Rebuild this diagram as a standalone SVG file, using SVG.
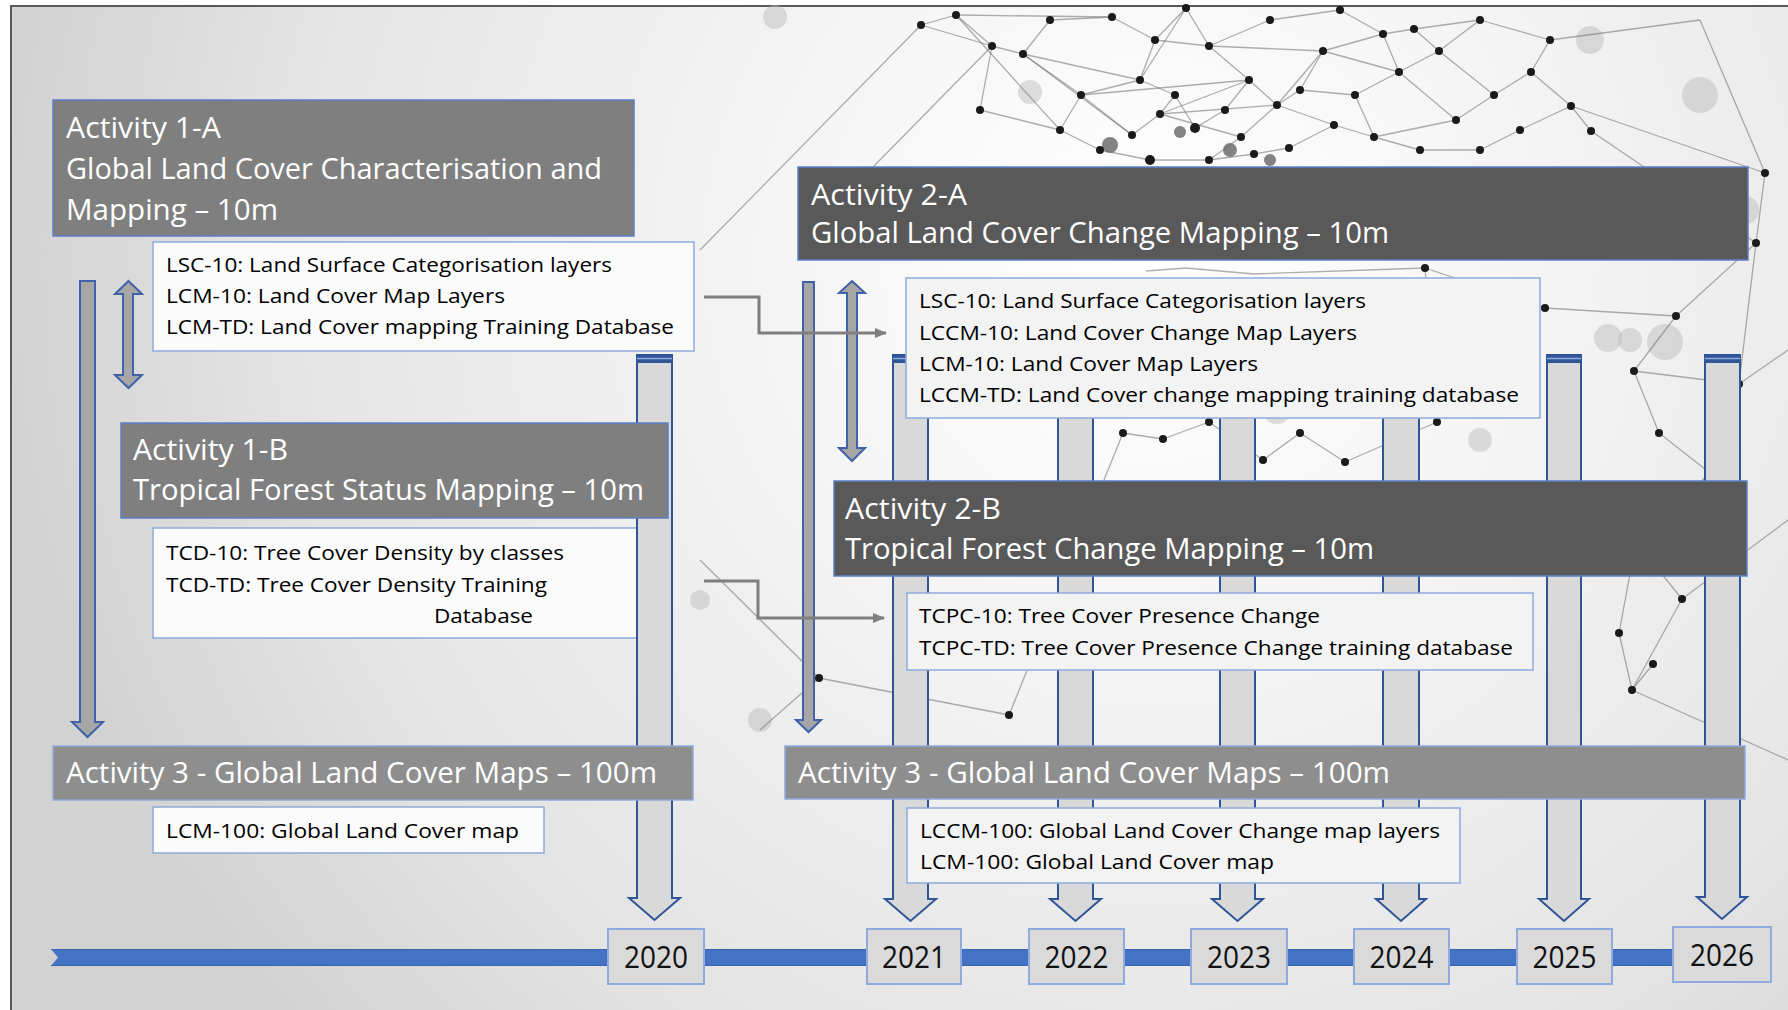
<svg xmlns="http://www.w3.org/2000/svg" width="1788" height="1010" viewBox="0 0 1788 1010">
<defs>
<radialGradient id="bg" cx="1150" cy="260" r="1150" gradientUnits="userSpaceOnUse">
<stop offset="0" stop-color="#ffffff"/>
<stop offset="0.35" stop-color="#f4f4f4"/>
<stop offset="0.75" stop-color="#e4e4e4"/>
<stop offset="1" stop-color="#d2d2d2"/>
</radialGradient>
<marker id="ah" markerWidth="12" markerHeight="10" refX="11" refY="5" orient="auto" markerUnits="userSpaceOnUse">
<path d="M0,0 L12,5 L0,10 Z" fill="#7f7f7f"/>
</marker>
<style>
.t{font-family:"Open Sans","Liberation Sans",sans-serif;font-weight:500}
.hdr{font-size:29px;fill:#ffffff}
.det{font-size:20.5px;fill:#000000}
.yr{font-size:31px;fill:#111111;text-anchor:middle}
.hm{fill:#7f7f7f;stroke:#5b7fc4;stroke-width:1.5}
.hd{fill:#595959;stroke:#5b7fc4;stroke-width:1.5}
.hl{fill:#8e8e8e;stroke:#8faadc;stroke-width:1.5}
.dbx{fill:#fbfbfb;stroke:#8faadc;stroke-width:1.5}
.dbx2{fill:#f3f3f3;stroke:#8faadc;stroke-width:1.5}
.blk{fill:#a6a6a6;stroke:#3f62a8;stroke-width:2}
.yarr{fill:#d9d9d9;stroke:#2f5597;stroke-width:2}
.cap{fill:#2f5597}
.capl{stroke:#8faadc;stroke-width:1.5}
.ybox{fill:#dadada;stroke:#8faadc;stroke-width:2}
.net line{stroke:#6e6e6e;stroke-width:1.3;opacity:0.55}
.net circle.d{fill:#1a1a1a}
.net circle.k{fill:#333333;opacity:0.6}
.net circle.b{fill:#b8b8b8;opacity:0.45}
.conn{fill:none;stroke:#7f7f7f;stroke-width:3}
</style>
</defs>

<rect x="0" y="0" width="1788" height="1010" fill="#ffffff"/>
<rect id="frame" x="11" y="6" width="1800" height="1020" fill="url(#bg)" stroke="#595959" stroke-width="2"/>

<g id="network-background" class="net">
<circle class="b" cx="775" cy="17" r="12"/>
<circle class="b" cx="1665" cy="342" r="18"/>
<circle class="b" cx="1608" cy="338" r="14"/>
<circle class="b" cx="1277" cy="410" r="14"/>
<circle class="b" cx="1030" cy="92" r="12"/>
<circle class="b" cx="1630" cy="340" r="12"/>
<circle class="b" cx="1700" cy="95" r="18"/>
<circle class="b" cx="760" cy="720" r="12"/>
<circle class="b" cx="700" cy="600" r="10"/>
<circle class="b" cx="1745" cy="210" r="14"/>
<circle class="b" cx="1590" cy="40" r="14"/>
<circle class="b" cx="1480" cy="440" r="12"/>
<circle class="k" cx="1110" cy="145" r="8"/>
<circle class="k" cx="1230" cy="150" r="7"/>
<circle class="k" cx="1180" cy="132" r="6"/>
<circle class="k" cx="1270" cy="160" r="6"/>
<line x1="921" y1="25" x2="956" y2="15"/>
<line x1="921" y1="25" x2="992" y2="46"/>
<line x1="956" y1="15" x2="992" y2="46"/>
<line x1="992" y1="46" x2="1023" y2="54"/>
<line x1="1023" y1="54" x2="1081" y2="95"/>
<line x1="956" y1="15" x2="1112" y2="17"/>
<line x1="1112" y1="17" x2="1155" y2="40"/>
<line x1="1155" y1="40" x2="1186" y2="8"/>
<line x1="1186" y1="8" x2="1209" y2="46"/>
<line x1="1155" y1="40" x2="1209" y2="46"/>
<line x1="1209" y1="46" x2="1249" y2="80"/>
<line x1="1249" y1="80" x2="1277" y2="105"/>
<line x1="1081" y1="95" x2="1249" y2="80"/>
<line x1="1209" y1="46" x2="1323" y2="51"/>
<line x1="1323" y1="51" x2="1383" y2="34"/>
<line x1="1383" y1="34" x2="1414" y2="29"/>
<line x1="1414" y1="29" x2="1439" y2="51"/>
<line x1="1399" y1="72" x2="1439" y2="51"/>
<line x1="1383" y1="34" x2="1399" y2="72"/>
<line x1="1323" y1="51" x2="1399" y2="72"/>
<line x1="1399" y1="72" x2="1456" y2="120"/>
<line x1="1439" y1="51" x2="1494" y2="95"/>
<line x1="1494" y1="95" x2="1531" y2="72"/>
<line x1="1531" y1="72" x2="1571" y2="106"/>
<line x1="1571" y1="106" x2="1591" y2="131"/>
<line x1="1456" y1="120" x2="1494" y2="95"/>
<line x1="1277" y1="105" x2="1160" y2="114"/>
<line x1="1160" y1="114" x2="1132" y2="135"/>
<line x1="1160" y1="114" x2="1241" y2="137"/>
<line x1="1241" y1="137" x2="1209" y2="160"/>
<line x1="1209" y1="160" x2="1254" y2="154"/>
<line x1="1254" y1="154" x2="1289" y2="148"/>
<line x1="1289" y1="148" x2="1334" y2="125"/>
<line x1="1334" y1="125" x2="1374" y2="137"/>
<line x1="1374" y1="137" x2="1456" y2="120"/>
<line x1="1277" y1="105" x2="1241" y2="137"/>
<line x1="1249" y1="80" x2="1160" y2="114"/>
<line x1="1081" y1="95" x2="1132" y2="135"/>
<line x1="1023" y1="54" x2="1132" y2="135"/>
<line x1="1277" y1="105" x2="1334" y2="125"/>
<line x1="1323" y1="51" x2="1277" y2="105"/>
<line x1="1140" y1="80" x2="1175" y2="95"/>
<line x1="1175" y1="95" x2="1195" y2="128"/>
<line x1="1195" y1="128" x2="1225" y2="110"/>
<line x1="1225" y1="110" x2="1249" y2="80"/>
<line x1="1140" y1="80" x2="1081" y2="95"/>
<line x1="1140" y1="80" x2="1155" y2="40"/>
<line x1="1175" y1="95" x2="1160" y2="114"/>
<line x1="1300" y1="90" x2="1355" y2="95"/>
<line x1="1355" y1="95" x2="1399" y2="72"/>
<line x1="1300" y1="90" x2="1277" y2="105"/>
<line x1="1300" y1="90" x2="1323" y2="51"/>
<line x1="1355" y1="95" x2="1374" y2="137"/>
<line x1="1150" y1="160" x2="1100" y2="150"/>
<line x1="1100" y1="150" x2="1060" y2="130"/>
<line x1="1060" y1="130" x2="1081" y2="95"/>
<line x1="1150" y1="160" x2="1209" y2="160"/>
<line x1="1060" y1="130" x2="980" y2="110"/>
<line x1="980" y1="110" x2="992" y2="46"/>
<line x1="1420" y1="150" x2="1480" y2="150"/>
<line x1="1480" y1="150" x2="1520" y2="130"/>
<line x1="1520" y1="130" x2="1571" y2="106"/>
<line x1="1420" y1="150" x2="1374" y2="137"/>
<line x1="1050" y1="20" x2="1112" y2="17"/>
<line x1="1050" y1="20" x2="1023" y2="54"/>
<line x1="1270" y1="20" x2="1209" y2="46"/>
<line x1="1270" y1="20" x2="1340" y2="10"/>
<line x1="1340" y1="10" x2="1383" y2="34"/>
<line x1="1480" y1="20" x2="1439" y2="51"/>
<line x1="1480" y1="20" x2="1550" y2="40"/>
<line x1="1550" y1="40" x2="1531" y2="72"/>
<line x1="1550" y1="40" x2="1700" y2="20"/>
<line x1="1700" y1="20" x2="1765" y2="173"/>
<line x1="1023" y1="54" x2="1140" y2="80"/>
<line x1="956" y1="15" x2="1060" y2="130"/>
<line x1="1186" y1="8" x2="1140" y2="80"/>
<line x1="1414" y1="29" x2="1480" y2="20"/>
<line x1="921" y1="25" x2="700" y2="250"/>
<line x1="992" y1="46" x2="870" y2="170"/>
<line x1="1591" y1="131" x2="1756" y2="243"/>
<line x1="1756" y1="243" x2="1765" y2="173"/>
<line x1="1765" y1="173" x2="1571" y2="106"/>
<line x1="1545" y1="308" x2="1676" y2="316"/>
<line x1="1676" y1="316" x2="1634" y2="371"/>
<line x1="1634" y1="371" x2="1739" y2="384"/>
<line x1="1739" y1="384" x2="1710" y2="473"/>
<line x1="1710" y1="473" x2="1659" y2="433"/>
<line x1="1659" y1="433" x2="1634" y2="371"/>
<line x1="1676" y1="316" x2="1756" y2="243"/>
<line x1="1739" y1="384" x2="1756" y2="243"/>
<line x1="1739" y1="384" x2="1788" y2="350"/>
<line x1="1545" y1="308" x2="1425" y2="268"/>
<line x1="1425" y1="268" x2="1437" y2="422"/>
<line x1="1437" y1="422" x2="1345" y2="462"/>
<line x1="1345" y1="462" x2="1300" y2="433"/>
<line x1="1300" y1="433" x2="1263" y2="460"/>
<line x1="1263" y1="460" x2="1209" y2="422"/>
<line x1="1209" y1="422" x2="1163" y2="439"/>
<line x1="1163" y1="439" x2="1123" y2="433"/>
<line x1="1710" y1="473" x2="1636" y2="542"/>
<line x1="1636" y1="542" x2="1682" y2="599"/>
<line x1="1682" y1="599" x2="1632" y2="690"/>
<line x1="1632" y1="690" x2="1619" y2="633"/>
<line x1="1619" y1="633" x2="1636" y2="542"/>
<line x1="1665" y1="570" x2="1636" y2="542"/>
<line x1="1653" y1="664" x2="1632" y2="690"/>
<line x1="1682" y1="599" x2="1788" y2="520"/>
<line x1="1632" y1="690" x2="1788" y2="760"/>
<line x1="1009" y1="715" x2="819" y2="678"/>
<line x1="819" y1="678" x2="700" y2="560"/>
<line x1="1009" y1="715" x2="1123" y2="433"/>
<line x1="819" y1="678" x2="760" y2="730"/>
<line x1="1186" y1="268" x2="1146" y2="271"/>
<line x1="1186" y1="268" x2="1254" y2="274"/>
<line x1="1254" y1="274" x2="1425" y2="268"/>
<circle class="d" cx="921" cy="25" r="4"/>
<circle class="d" cx="956" cy="15" r="4"/>
<circle class="d" cx="992" cy="46" r="4"/>
<circle class="d" cx="1023" cy="54" r="4"/>
<circle class="d" cx="1081" cy="95" r="4"/>
<circle class="d" cx="1112" cy="17" r="4"/>
<circle class="d" cx="1155" cy="40" r="4"/>
<circle class="d" cx="1186" cy="8" r="4"/>
<circle class="d" cx="1209" cy="46" r="4"/>
<circle class="d" cx="1249" cy="80" r="4"/>
<circle class="d" cx="1277" cy="105" r="4"/>
<circle class="d" cx="1323" cy="51" r="4"/>
<circle class="d" cx="1383" cy="34" r="4"/>
<circle class="d" cx="1414" cy="29" r="4"/>
<circle class="d" cx="1399" cy="72" r="4"/>
<circle class="d" cx="1439" cy="51" r="4"/>
<circle class="d" cx="1456" cy="120" r="4"/>
<circle class="d" cx="1494" cy="95" r="4"/>
<circle class="d" cx="1531" cy="72" r="4"/>
<circle class="d" cx="1571" cy="106" r="4"/>
<circle class="d" cx="1591" cy="131" r="4"/>
<circle class="d" cx="1160" cy="114" r="4"/>
<circle class="d" cx="1241" cy="137" r="4"/>
<circle class="d" cx="1132" cy="135" r="4"/>
<circle class="d" cx="1209" cy="160" r="4"/>
<circle class="d" cx="1254" cy="154" r="4"/>
<circle class="d" cx="1334" cy="125" r="4"/>
<circle class="d" cx="1374" cy="137" r="4"/>
<circle class="d" cx="1289" cy="148" r="4"/>
<circle class="d" cx="1140" cy="80" r="4"/>
<circle class="d" cx="1175" cy="95" r="4"/>
<circle class="d" cx="1195" cy="128" r="5"/>
<circle class="d" cx="1225" cy="110" r="4"/>
<circle class="d" cx="1300" cy="90" r="4"/>
<circle class="d" cx="1355" cy="95" r="4"/>
<circle class="d" cx="1150" cy="160" r="5"/>
<circle class="d" cx="1100" cy="150" r="4"/>
<circle class="d" cx="1060" cy="130" r="4"/>
<circle class="d" cx="980" cy="110" r="4"/>
<circle class="d" cx="1420" cy="150" r="4"/>
<circle class="d" cx="1480" cy="150" r="4"/>
<circle class="d" cx="1520" cy="130" r="4"/>
<circle class="d" cx="1050" cy="20" r="4"/>
<circle class="d" cx="1270" cy="20" r="4"/>
<circle class="d" cx="1340" cy="10" r="4"/>
<circle class="d" cx="1480" cy="20" r="4"/>
<circle class="d" cx="1550" cy="40" r="4"/>
<circle class="d" cx="1545" cy="308" r="4"/>
<circle class="d" cx="1676" cy="316" r="4"/>
<circle class="d" cx="1634" cy="371" r="4"/>
<circle class="d" cx="1739" cy="384" r="4"/>
<circle class="d" cx="1710" cy="473" r="4"/>
<circle class="d" cx="1659" cy="433" r="4"/>
<circle class="d" cx="1756" cy="243" r="4"/>
<circle class="d" cx="1765" cy="173" r="4"/>
<circle class="d" cx="1636" cy="542" r="4"/>
<circle class="d" cx="1682" cy="599" r="4"/>
<circle class="d" cx="1632" cy="690" r="4"/>
<circle class="d" cx="1619" cy="633" r="4"/>
<circle class="d" cx="1437" cy="422" r="4"/>
<circle class="d" cx="1345" cy="462" r="4"/>
<circle class="d" cx="1263" cy="460" r="4"/>
<circle class="d" cx="1300" cy="433" r="4"/>
<circle class="d" cx="1123" cy="433" r="4"/>
<circle class="d" cx="1163" cy="439" r="4"/>
<circle class="d" cx="1209" cy="422" r="4"/>
<circle class="d" cx="1009" cy="715" r="4"/>
<circle class="d" cx="819" cy="678" r="4"/>
<circle class="d" cx="1653" cy="664" r="4"/>
<circle class="d" cx="1665" cy="570" r="4"/>
<circle class="d" cx="1425" cy="268" r="4"/>
</g>

<g id="details-1b">
<rect class="dbx" x="153" y="528" width="484" height="110"/>
<text class="t det" x="166" y="560" textLength="398" lengthAdjust="spacingAndGlyphs">TCD-10: Tree Cover Density by classes</text>
<text class="t det" x="166" y="592" textLength="381" lengthAdjust="spacingAndGlyphs">TCD-TD: Tree Cover Density Training</text>
<text class="t det" x="434" y="623" textLength="99" lengthAdjust="spacingAndGlyphs">Database</text>
</g>

<g id="year-arrows">
<g id="arrow-2020">
<path class="yarr" d="M637,355 H672 V898 H680 L654.5,920 L629,898 H637 Z"/>
<rect class="cap" x="636" y="354" width="37" height="9"/>
<line class="capl" x1="637" y1="358.5" x2="672" y2="358.5"/>
</g>
<g id="arrow-2021">
<path class="yarr" d="M893,355 H928 V899 H936 L910.5,921 L885,899 H893 Z"/>
<rect class="cap" x="892" y="354" width="37" height="9"/>
<line class="capl" x1="893" y1="358.5" x2="928" y2="358.5"/>
</g>
<g id="arrow-2022">
<path class="yarr" d="M1058,355 H1093 V899 H1101 L1075.5,921 L1050,899 H1058 Z"/>
<rect class="cap" x="1057" y="354" width="37" height="9"/>
<line class="capl" x1="1058" y1="358.5" x2="1093" y2="358.5"/>
</g>
<g id="arrow-2023">
<path class="yarr" d="M1220,355 H1255 V899 H1263 L1237.5,921 L1212,899 H1220 Z"/>
<rect class="cap" x="1219" y="354" width="37" height="9"/>
<line class="capl" x1="1220" y1="358.5" x2="1255" y2="358.5"/>
</g>
<g id="arrow-2024">
<path class="yarr" d="M1383,355 H1419 V899 H1426 L1401,921 L1376,899 H1383 Z"/>
<rect class="cap" x="1382" y="354" width="38" height="9"/>
<line class="capl" x1="1383" y1="358.5" x2="1419" y2="358.5"/>
</g>
<g id="arrow-2025">
<path class="yarr" d="M1547,355 H1581 V899 H1589 L1564,921 L1539,899 H1547 Z"/>
<rect class="cap" x="1546" y="354" width="36" height="9"/>
<line class="capl" x1="1547" y1="358.5" x2="1581" y2="358.5"/>
</g>
<g id="arrow-2026">
<path class="yarr" d="M1705,355 H1740 V897 H1747 L1722,919 L1697,897 H1705 Z"/>
<rect class="cap" x="1704" y="354" width="37" height="9"/>
<line class="capl" x1="1705" y1="358.5" x2="1740" y2="358.5"/>
</g>
</g>

<g id="flow-arrow-1">
<path class="blk" d="M80,281 H95 V722 H103 L87.5,737 L72,722 H80 Z"/>
</g>
<g id="double-arrow-1">
<path class="blk" d="M128.5,281 L142,294 H133 V375 H142 L128.5,388 L115,375 H123 V294 H115 Z"/>
</g>
<g id="flow-arrow-2">
<path class="blk" d="M803,282 H814 V720 H821 L808.5,732 L796,720 H803 Z"/>
</g>
<g id="double-arrow-2">
<path class="blk" d="M852,281 L865,293 H857 V448 H865 L852,461 L839,448 H847 V293 H839 Z"/>
</g>

<g id="activity-1a">
<rect class="hm" x="53" y="100" width="581" height="136"/>
<text class="t hdr" x="66" y="138" textLength="155" lengthAdjust="spacingAndGlyphs">Activity 1-A</text>
<text class="t hdr" x="66" y="179" textLength="536" lengthAdjust="spacingAndGlyphs">Global Land Cover Characterisation and</text>
<text class="t hdr" x="66" y="220" textLength="212" lengthAdjust="spacingAndGlyphs">Mapping – 10m</text>
</g>
<g id="details-1a">
<rect class="dbx" x="153" y="242" width="541" height="109"/>
<text class="t det" x="166" y="272" textLength="446" lengthAdjust="spacingAndGlyphs">LSC-10: Land Surface Categorisation layers</text>
<text class="t det" x="166" y="303" textLength="339" lengthAdjust="spacingAndGlyphs">LCM-10: Land Cover Map Layers</text>
<text class="t det" x="166" y="334" textLength="508" lengthAdjust="spacingAndGlyphs">LCM-TD: Land Cover mapping Training Database</text>
</g>
<g id="activity-1b">
<rect class="hm" x="121" y="423" width="547" height="95"/>
<text class="t hdr" x="133" y="460" textLength="155" lengthAdjust="spacingAndGlyphs">Activity 1-B</text>
<text class="t hdr" x="133" y="500" textLength="511" lengthAdjust="spacingAndGlyphs">Tropical Forest Status Mapping – 10m</text>
</g>
<g id="activity-3-left">
<rect class="hl" x="53" y="746" width="640" height="54"/>
<text class="t hdr" x="66" y="783" textLength="591" lengthAdjust="spacingAndGlyphs">Activity 3 - Global Land Cover Maps – 100m</text>
</g>
<g id="details-3-left">
<rect class="dbx" x="153" y="807" width="391" height="46"/>
<text class="t det" x="166" y="838" textLength="353" lengthAdjust="spacingAndGlyphs">LCM-100: Global Land Cover map</text>
</g>

<g id="activity-2a">
<rect class="hd" x="798" y="167" width="950" height="93"/>
<text class="t hdr" x="811" y="205" textLength="156" lengthAdjust="spacingAndGlyphs">Activity 2-A</text>
<text class="t hdr" x="811" y="243" textLength="578" lengthAdjust="spacingAndGlyphs">Global Land Cover Change Mapping – 10m</text>
</g>
<g id="details-2a">
<rect class="dbx2" x="906" y="278" width="634" height="140"/>
<text class="t det" x="919" y="308" textLength="447" lengthAdjust="spacingAndGlyphs">LSC-10: Land Surface Categorisation layers</text>
<text class="t det" x="919" y="340" textLength="438" lengthAdjust="spacingAndGlyphs">LCCM-10: Land Cover Change Map Layers</text>
<text class="t det" x="919" y="371" textLength="339" lengthAdjust="spacingAndGlyphs">LCM-10: Land Cover Map Layers</text>
<text class="t det" x="919" y="402" textLength="600" lengthAdjust="spacingAndGlyphs">LCCM-TD: Land Cover change mapping training database</text>
</g>
<g id="activity-2b">
<rect class="hd" x="834" y="481" width="913" height="95"/>
<text class="t hdr" x="845" y="519" textLength="156" lengthAdjust="spacingAndGlyphs">Activity 2-B</text>
<text class="t hdr" x="845" y="559" textLength="529" lengthAdjust="spacingAndGlyphs">Tropical Forest Change Mapping – 10m</text>
</g>
<g id="details-2b">
<rect class="dbx2" x="907" y="593" width="626" height="77"/>
<text class="t det" x="919" y="623" textLength="401" lengthAdjust="spacingAndGlyphs">TCPC-10: Tree Cover Presence Change</text>
<text class="t det" x="919" y="655" textLength="594" lengthAdjust="spacingAndGlyphs">TCPC-TD: Tree Cover Presence Change training database</text>
</g>
<g id="activity-3-right">
<rect class="hl" x="785" y="746" width="960" height="53"/>
<text class="t hdr" x="798" y="783" textLength="592" lengthAdjust="spacingAndGlyphs">Activity 3 - Global Land Cover Maps – 100m</text>
</g>
<g id="details-3-right">
<rect class="dbx2" x="907" y="808" width="553" height="75"/>
<text class="t det" x="920" y="838" textLength="520" lengthAdjust="spacingAndGlyphs">LCCM-100: Global Land Cover Change map layers</text>
<text class="t det" x="920" y="869" textLength="354" lengthAdjust="spacingAndGlyphs">LCM-100: Global Land Cover map</text>
</g>

<g id="timeline">
<polygon points="51,949 1680,949 1680,966 51,966 58,957.5" fill="#4472c4"/>
<line x1="51" y1="949.5" x2="1680" y2="949.5" stroke="#3a62ad" stroke-width="1"/>
<line x1="51" y1="965.5" x2="1680" y2="965.5" stroke="#3a62ad" stroke-width="1"/>
</g>
<g id="year-2020"><rect class="ybox" x="608" y="929" width="96" height="55"/><text class="t yr" x="656" y="968" textLength="64" lengthAdjust="spacingAndGlyphs">2020</text></g>
<g id="year-2021"><rect class="ybox" x="867" y="929" width="94" height="55"/><text class="t yr" x="914" y="968" textLength="64" lengthAdjust="spacingAndGlyphs">2021</text></g>
<g id="year-2022"><rect class="ybox" x="1029" y="929" width="95" height="55"/><text class="t yr" x="1076.5" y="968" textLength="64" lengthAdjust="spacingAndGlyphs">2022</text></g>
<g id="year-2023"><rect class="ybox" x="1191" y="929" width="96" height="55"/><text class="t yr" x="1239" y="968" textLength="64" lengthAdjust="spacingAndGlyphs">2023</text></g>
<g id="year-2024"><rect class="ybox" x="1354" y="929" width="95" height="55"/><text class="t yr" x="1401.5" y="968" textLength="64" lengthAdjust="spacingAndGlyphs">2024</text></g>
<g id="year-2025"><rect class="ybox" x="1517" y="929" width="95" height="55"/><text class="t yr" x="1564.5" y="968" textLength="64" lengthAdjust="spacingAndGlyphs">2025</text></g>
<g id="year-2026"><rect class="ybox" x="1673" y="927" width="98" height="55"/><text class="t yr" x="1722" y="966" textLength="64" lengthAdjust="spacingAndGlyphs">2026</text></g>

<g id="connectors">
<path class="conn" d="M704,297 H759 V333 H886" marker-end="url(#ah)"/>
<path class="conn" d="M704,581 H758 V618 H884" marker-end="url(#ah)"/>
</g>
</svg>
